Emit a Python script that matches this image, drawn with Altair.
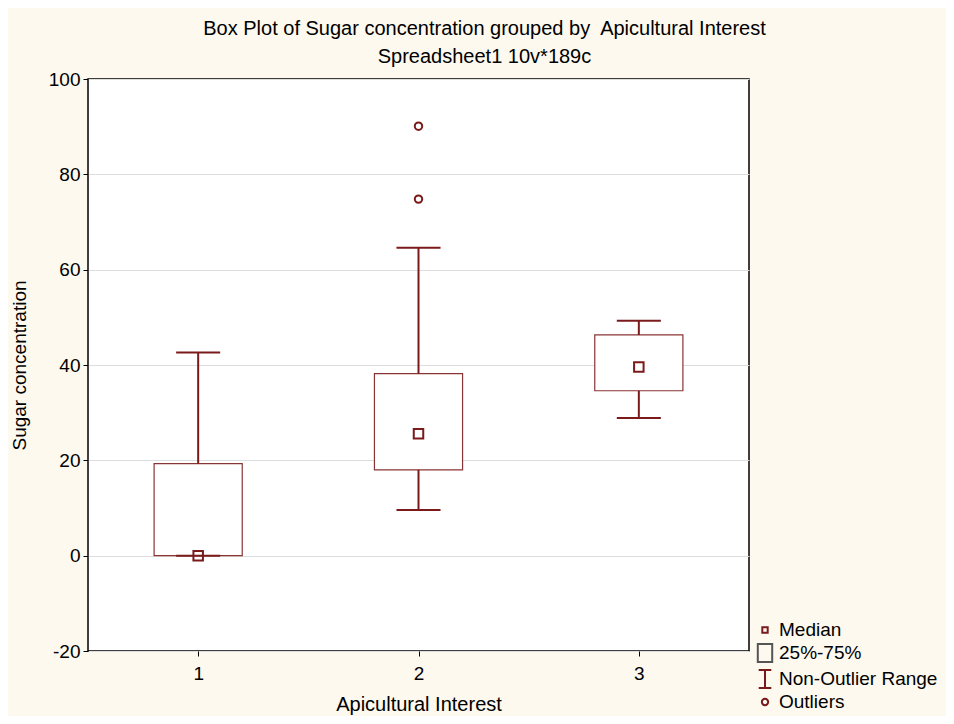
import altair as alt
import pandas as pd

# ---- data ----
groups = [1, 2, 3]
q1 = [0.0, 18.0, 34.6]
q3 = [19.3, 38.2, 46.3]
medians = [0.0, 25.6, 39.6]
whisk_lo = [0.0, 9.6, 28.9]
whisk_hi = [42.6, 64.6, 49.3]
outlier_group = [2, 2]
outlier_value = [90.1, 74.8]

legend_items = ["Median", "25%-75%", "Non-Outlier Range", "Outliers"]
legend_paths = [
    "M-0.3,-0.3H0.3V0.3H-0.3Z",
    "M-0.8,-1H0.8V1H-0.8Z",
    "M-0.7,-1H0.7M0,-1V1M-0.7,1H0.7",
    "M-0.35,0A0.35,0.35 0 1,0 0.35,0A0.35,0.35 0 1,0 -0.35,0",
]
legend_colors = ["#7a1a1a", "#555555", "#7a1a1a", "#7a1a1a"]

RED = "#7a1a1a"
BOX = "#8a3535"
FONT = "Liberation Sans"

stats = pd.DataFrame({"g": groups, "q1": q1, "q3": q3, "med": medians,
                      "lo": whisk_lo, "hi": whisk_hi})
outl = pd.DataFrame({"g": outlier_group, "v": outlier_value})
leg = pd.DataFrame({"item": legend_items, "v": [0] * 4})

xscale = alt.Scale(domain=[0.5, 3.5], nice=False, zero=False)
yscale = alt.Scale(domain=[-20, 100], nice=False)

xaxis = alt.Axis(values=[1, 2, 3], title="Apicultural Interest", grid=False,
                 labelExpr="'' + datum.value", domain=False)
yaxis = alt.Axis(values=[-20, 0, 20, 40, 60, 80, 100], title="Sugar concentration",
                 grid=True, domain=False, labelExpr="'' + datum.value")

base = alt.Chart(stats)

boxes = base.transform_calculate(
    xa="datum.g - 0.2", xb="datum.g + 0.2"
).mark_rect(fill="white", stroke=BOX, strokeWidth=1.2).encode(
    x=alt.X("xa:Q", scale=xscale, axis=xaxis),
    x2="xb:Q",
    y=alt.Y("q1:Q", scale=yscale, axis=yaxis),
    y2="q3:Q",
)

whisk_up = base.mark_rule(color=RED, strokeWidth=2).encode(
    x=alt.X("g:Q", scale=xscale), y=alt.Y("q3:Q", scale=yscale), y2="hi:Q")
whisk_dn = base.mark_rule(color=RED, strokeWidth=2).encode(
    x=alt.X("g:Q", scale=xscale), y=alt.Y("lo:Q", scale=yscale), y2="q1:Q")

caps_hi = base.transform_calculate(
    xa="datum.g - 0.1", xb="datum.g + 0.1"
).mark_rule(color=RED, strokeWidth=2).encode(
    x=alt.X("xa:Q", scale=xscale), x2="xb:Q", y=alt.Y("hi:Q", scale=yscale))
caps_lo = base.transform_calculate(
    xa="datum.g - 0.1", xb="datum.g + 0.1"
).mark_rule(color=RED, strokeWidth=2).encode(
    x=alt.X("xa:Q", scale=xscale), x2="xb:Q", y=alt.Y("lo:Q", scale=yscale))

med = base.mark_point(shape="square", filled=False, color=RED, size=90,
                      strokeWidth=2, opacity=1).encode(
    x=alt.X("g:Q", scale=xscale), y=alt.Y("med:Q", scale=yscale))

outs = alt.Chart(outl).mark_point(shape="circle", filled=False, color=RED,
                                  size=55, strokeWidth=2, opacity=1).encode(
    x=alt.X("g:Q", scale=xscale), y=alt.Y("v:Q", scale=yscale))

legend_cfg = dict(title=None, orient="none", legendX=667, legendY=541,
                  symbolSize=324, labelFontSize=19, labelFont=FONT,
                  labelColor="black", rowPadding=0, labelOffset=4, labelLimit=300,
                  symbolOpacity=1, symbolStrokeWidth=2,
                  symbolFillColor="transparent")

legend_layer = alt.Chart(leg).transform_filter("datum.v > 1000").mark_point(
    filled=False, opacity=1).encode(
    x=alt.X("v:Q", scale=xscale),
    y=alt.Y("v:Q", scale=yscale),
    shape=alt.Shape("item:N", scale=alt.Scale(domain=legend_items, range=legend_paths),
                    legend=alt.Legend(**legend_cfg)),
    color=alt.Color("item:N", scale=alt.Scale(domain=legend_items, range=legend_colors),
                    legend=alt.Legend(**legend_cfg)),
)

chart = alt.layer(boxes, whisk_up, whisk_dn, caps_hi, caps_lo, med, outs, legend_layer).properties(
    width=661, height=572,
    title=alt.TitleParams(
        text=["Box Plot of Sugar concentration grouped by\u00a0 Apicultural Interest",
              "Spreadsheet1 10v*189c"],
        font=FONT, fontSize=20, fontWeight="normal", color="black",
        lineHeight=28, offset=3, anchor="middle", dx=66),
    background="#fdf9ef",
    autosize=alt.AutoSizeParams(type="none"),
    padding={"left": 80, "top": 71, "right": 197, "bottom": 65},
).configure_view(
    fill="white", stroke="black", strokeWidth=1.5
).configure_axis(
    labelFont=FONT, labelFontSize=19, labelColor="black",
    titleFont=FONT, titleFontSize=19, titleColor="black", titleFontWeight="normal",
    tickColor="black", tickSize=5, gridColor="#dddddd", labelPadding=3,
).configure_axisY(titlePadding=19).configure_axisX(titlePadding=11, labelPadding=8,
                                                    titleFontSize=20)

chart.save("out.html", embed_options={"renderer": "svg", "actions": False})
